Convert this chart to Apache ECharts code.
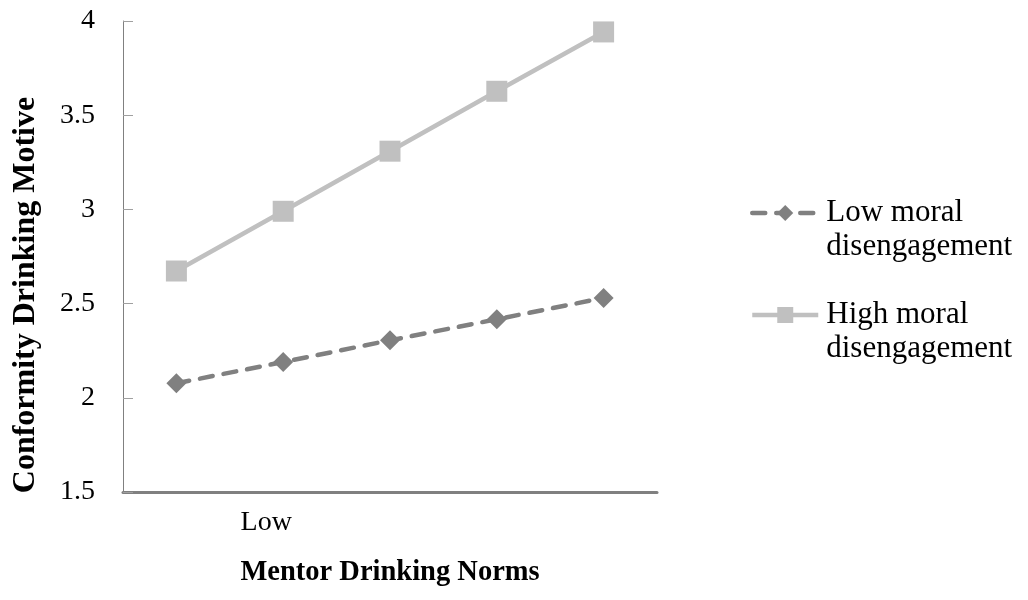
<!DOCTYPE html>
<html>
<head>
<meta charset="utf-8">
<script src="https://cdn.jsdelivr.net/npm/echarts@6/dist/echarts.min.js"></script>
<style>
  html, body { margin: 0; padding: 0; background: #fff; }
  #chart { width: 1028px; height: 600px; }
</style>
</head>
<body>
<div id="chart"></div>
<script>
const categories = ['', 'Low', '', '', '']
const lowMoral = [2.077, 2.19, 2.305, 2.417, 2.53]
const highMoral = [2.673, 2.99, 3.309, 3.627, 3.942]
const seriesNames = ['Low moral\ndisengagement', 'High moral\ndisengagement']
const yMin = 1.5
const yMax = 4
const yStep = 0.5

const font = '"Liberation Serif", "Times New Roman", serif'
const chart = echarts.init(document.getElementById('chart'))

chart.setOption({
  animation: false,
  backgroundColor: '#fff',
  grid: { left: 123, right: 371, top: 21, bottom: 108, containLabel: false, outerBoundsMode: 'none' },
  legend: {
    orient: 'vertical',
    left: 745,
    top: 157,
    itemWidth: 66,
    itemHeight: 20,
    itemGap: 0,
    selectedMode: false,
    lineStyle: { width: 4.5 },
    // leading blank line keeps the first text line level with the icon
    formatter: (name) => '\n' + name,
    textStyle: {
      fontFamily: font,
      fontSize: 31,
      color: '#000',
      lineHeight: 34,
      padding: [0, 0, 0, 3],
    },
  },
  xAxis: {
    type: 'category',
    data: categories,
    boundaryGap: true,
    name: 'Mentor Drinking Norms',
    nameLocation: 'middle',
    nameGap: 66,
    nameTextStyle: { fontFamily: font, fontSize: 28.5, fontWeight: 'bold', color: '#000' },
    axisLine: { lineStyle: { color: '#808080', width: 3 } },
    axisTick: { inside: true, length: 8, interval: 0, lineStyle: { color: '#8a8a8a', width: 2 } },
    axisLabel: {
      interval: 0,
      margin: 17,
      fontFamily: font,
      fontSize: 28,
      color: '#000',
      padding: [0, 34, 0, 0],
    },
    splitLine: { show: false },
  },
  yAxis: {
    type: 'value',
    min: yMin,
    max: yMax,
    interval: yStep,
    name: 'Conformity Drinking Motive',
    nameLocation: 'middle',
    nameGap: 81,
    nameTextStyle: {
      fontFamily: font,
      fontSize: 32,
      fontWeight: 'bold',
      color: '#000',
      padding: [0, 77, 0, 0],
    },
    axisLine: { show: true, lineStyle: { color: '#808080', width: 1 } },
    axisTick: { show: true, inside: true, length: 10, lineStyle: { color: '#a0a0a0', width: 1 } },
    axisLabel: { margin: 28, fontFamily: font, fontSize: 28, color: '#000' },
    splitLine: { show: false },
  },
  series: [
    {
      name: seriesNames[0],
      type: 'line',
      data: lowMoral,
      symbol: 'diamond',
      symbolSize: 20,
      color: '#808080',
      lineStyle: { color: '#808080', width: 4.5, type: [13, 11], cap: 'round' },
      itemStyle: { color: '#808080' },
    },
    {
      name: seriesNames[1],
      type: 'line',
      data: highMoral,
      symbol: 'rect',
      symbolSize: 21,
      color: '#c0c0c0',
      lineStyle: { color: '#c0c0c0', width: 4.5 },
      itemStyle: { color: '#c0c0c0' },
    },
  ],
})
</script>
</body>
</html>
